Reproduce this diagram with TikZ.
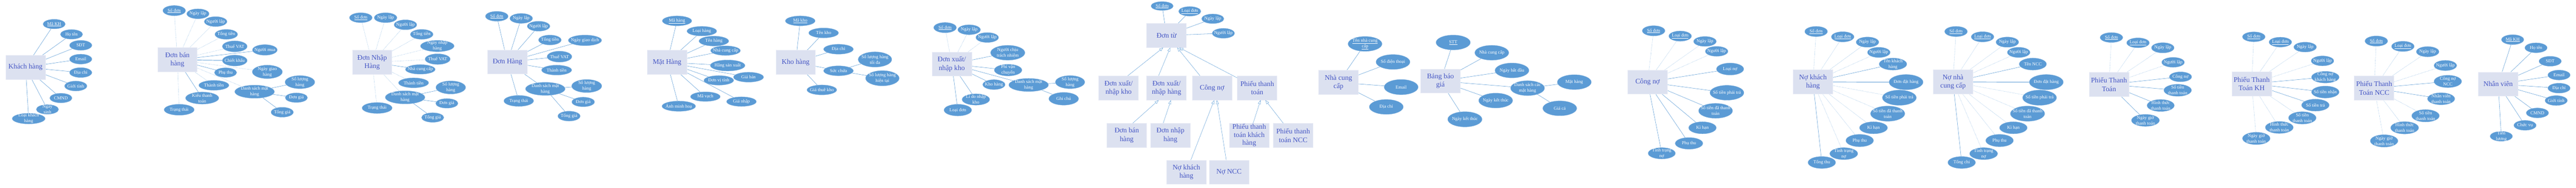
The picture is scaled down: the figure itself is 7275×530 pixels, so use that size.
\documentclass[tikz,border=0pt]{standalone}
\usepackage{fontspec}
\setmainfont{Liberation Serif}
\usetikzlibrary{shapes.geometric,arrows.meta}
\definecolor{attrfill}{HTML}{5B9BD5}
\definecolor{attrdraw}{HTML}{7FB0DE}
\definecolor{entfill}{HTML}{DCE1F0}
\definecolor{entdraw}{HTML}{E8EBF5}
\definecolor{enttext}{HTML}{4455C4}
\definecolor{lnc}{HTML}{5B9BD5}
\definecolor{dlc}{HTML}{9DC3E6}
\pgfdeclarelayer{bg}
\pgfsetlayers{bg,main}
\tikzset{
  attr/.style={ellipse,fill=attrfill,draw=attrdraw,line width=0.6pt,inner sep=0pt},
  atxt/.style={text=white,align=center,inner sep=0pt,font=\fontsize{13}{16}\selectfont},
  ent/.style={rectangle,fill=entfill,draw=entdraw,line width=1pt,minimum width=112pt,minimum height=68pt,inner sep=0pt,align=center,text=enttext,font=\fontsize{20}{24}\selectfont},
  ln/.style={draw=lnc,line width=0.8pt},
  thk/.style={draw=lnc,line width=1.4pt},
  dl/.style={draw=dlc,line width=0.8pt,densely dotted},
  gen/.style={draw=lnc,line width=0.7pt,-{Triangle[open,length=11pt,width=8pt]}}
}
\newcommand{\myattr}[6]{%
  \node[attr,minimum width=#4pt,minimum height=#5pt] (#1) at (#2,#3) {};
  \node[atxt] (#1t) at (#1.center) {#6};}
\newcommand{\myent}[4]{\node[ent] (#1) at (#2,#3) {#4};}
\newcommand{\links}[3]{\begin{pgfonlayer}{bg}\foreach \tgt in {#3}{\draw[#1] (#2) -- (\tgt);}\end{pgfonlayer}}
\begin{document}
\begin{tikzpicture}[x=1pt,y=-1pt]
\useasboundingbox (0,0) rectangle (7275,530);
% ---------------- Khach hang
\myent{KH}{72}{190}{Khách hàng}
\myattr{k1}{153}{68}{63}{27}{\underline{Mã KH}}
\myattr{k2}{202}{97}{63}{27}{Họ tên}
\myattr{k3}{228}{128}{63}{28}{SĐT}
\myattr{k4}{228}{167}{63}{28}{Email}
\myattr{k5}{228}{205}{63}{28}{Địa chỉ}
\myattr{k6}{214}{243}{63}{28}{Giới tính}
\myattr{k7}{172}{277}{63}{27}{CMND}
\myattr{k8}{134}{309}{63}{27}{Ngày\\sinh}
\myattr{k9}{81}{335}{93}{30}{Loại khách\\hàng}
\links{ln}{KH}{k1,k2,k3,k4,k5,k6,k7,k8,k9}
% ---------------- Don ban hang
\myent{DBH}{501}{169}{Đơn bán\\hàng}
\myattr{b1}{492}{30}{64}{29}{\underline{Số đơn}}
\myattr{b2}{559}{39}{63}{28}{Ngày lập}
\myattr{b3}{609}{61}{64}{28}{Người lập}
\myattr{b4}{639}{97}{64}{28}{Tổng tiền}
\myattr{b5}{663}{131}{70}{31}{Thuế VAT}
\myattr{b6}{748}{141}{70}{30}{Người mua}
\myattr{b7}{663}{171}{70}{31}{Chiết khấu}
\myattr{b8}{755}{203}{85}{38}{Ngày giao\\hàng}
\myattr{b9}{637}{205}{63}{27}{Phụ thu}
\myattr{b10}{604}{241}{85}{28}{Thành tiền}
\myattr{b11}{571}{277}{94}{34}{Kiểu thanh\\toán}
\myattr{b12}{506}{310}{85}{31}{Trạng thái}
\myattr{b13}{719}{259}{112}{37}{Danh sách mặt\\hàng}
\myattr{b14}{847}{232}{84}{37}{Số lượng\\hàng}
\myattr{b15}{837}{276}{63}{27}{Đơn giá}
\myattr{b16}{797}{317}{63}{28}{Tổng giá}
\links{dl}{DBH}{b1,b2,b3,b4,b5,b8,b10,b12,b13}
\links{ln}{DBH}{b6,b9,b11}
\links{thk}{DBH}{b7}
\links{ln}{b13}{b14,b15,b16}
% ---------------- Don nhap hang
\myent{DNH}{1051}{176}{Đơn Nhập\\Hàng}
\myattr{n1}{1019}{50}{64}{28}{\underline{Số đơn}}
\myattr{n2}{1089}{50}{64}{28}{Ngày lập}
\myattr{n3}{1145}{70}{64}{28}{Người lập}
\myattr{n4}{1191}{97}{64}{28}{Tổng tiền}
\myattr{n5}{1235}{130}{95}{32}{Ngày nhập\\hàng}
\myattr{n6}{1236}{167}{71}{30}{Thuế VAT}
\myattr{n7}{1187}{196}{84}{27}{Nhà cung cấp}
\myattr{n8}{1168}{234}{85}{28}{Thành tiền}
\myattr{n9}{1144}{275}{112}{37}{Danh sách mặt\\hàng}
\myattr{n10}{1273}{247}{84}{37}{Số lượng\\hàng}
\myattr{n11}{1262}{292}{63}{27}{Đơn giá}
\myattr{n12}{1222}{332}{63}{27}{Tổng giá}
\myattr{n13}{1065}{305}{85}{31}{Trạng thái}
\links{dl}{DNH}{n1,n2,n3,n4,n5,n6,n8,n9,n13}
\links{ln}{DNH}{n7}
\links{ln}{n9}{n10,n11,n12}
% ---------------- Don hang
\myent{DH}{1433}{175}{Đơn Hàng}
\myattr{h1}{1403}{46}{64}{28}{\underline{Số đơn}}
\myattr{h2}{1472}{52}{64}{28}{Ngày lập}
\myattr{h3}{1521}{74}{64}{28}{Người lập}
\myattr{h4}{1553}{113}{64}{28}{Tổng tiền}
\myattr{h5}{1652}{114}{94}{30}{Ngày giao dịch}
\myattr{h6}{1580}{160}{70}{31}{Thuế VAT}
\myattr{h7}{1572}{198}{85}{28}{Thành tiền}
\myattr{h8}{1540}{251}{112}{37}{Danh sách mặt\\hàng}
\myattr{h9}{1657}{243}{85}{37}{Số lượng\\hàng}
\myattr{h10}{1647}{288}{64}{27}{Đơn giá}
\myattr{h11}{1607}{328}{63}{28}{Tổng giá}
\myattr{h12}{1465}{285}{84}{31}{Trạng thái}
\links{ln}{DH}{h1,h2,h3,h4,h5,h6,h7,h8,h12}
\links{ln}{h8}{h9,h10,h11}
% ---------------- Mat hang
\myent{MH}{1884}{176}{Mặt Hàng}
\myattr{m1}{1912}{59}{83}{28}{\underline{Mã hàng}}
\myattr{m2}{1982}{88}{84}{27}{Loại hàng}
\myattr{m3}{2016}{116}{84}{28}{Tên hàng}
\myattr{m4}{2049}{143}{84}{27}{Nhà cung cấp}
\myattr{m5}{2055}{185}{98}{31}{Hãng sản xuất}
\myattr{m6}{2114}{218}{85}{28}{Giá bán}
\myattr{m7}{2030}{227}{84}{27}{Đơn vị tính}
\myattr{m8}{1992}{273}{84}{27}{Mã vạch}
\myattr{m9}{2094}{287}{84}{27}{Giá nhập}
\myattr{m10}{1917}{300}{95}{29}{Ảnh minh hoạ}
\links{ln}{MH}{m1,m2,m3,m4,m5,m6,m7,m8,m9,m10}
% ---------------- Kho hang
\myent{KHO}{2247}{176}{Kho hàng}
\myattr{o1}{2260}{59}{84}{28}{\underline{Mã kho}}
\myattr{o2}{2326}{93}{84}{28}{Tên kho}
\myattr{o3}{2368}{139}{84}{28}{Địa chỉ}
\myattr{o4}{2368}{200}{84}{28}{Sức chứa}
\myattr{o5}{2321}{254}{84}{28}{Giá thuê kho}
\myattr{o6}{2471}{168}{95}{43}{Số lượng hàng\\tối đa}
\myattr{o7}{2492}{221}{95}{43}{Số lượng hàng\\hiện tại}
\links{ln}{KHO}{o1,o2,o3,o4,o5}
\links{ln}{o4}{o6,o7}
% ---------------- Don xuat/nhap kho
\myent{DXK}{2688}{181}{Đơn xuất/\\nhập kho}
\myattr{x1}{2669}{78}{64}{29}{\underline{Số đơn}}
\myattr{x2}{2737}{84}{64}{28}{Ngày lập}
\myattr{x3}{2788}{106}{64}{28}{Người lập}
\myattr{x4}{2846}{149}{97}{42}{Người chịu\\trách nhiệm}
\myattr{x5}{2847}{198}{78}{33}{Phí vận\\chuyển}
\myattr{x6}{2807}{239}{63}{28}{Kho hàng}
\myattr{x7}{2905}{240}{112}{37}{Danh sách mặt\\hàng}
\myattr{x8}{3022}{232}{83}{37}{Số lượng\\hàng}
\myattr{x9}{3004}{279}{84}{36}{Ghi chú}
\myattr{x10}{2756}{281}{78}{32}{Lí do nhập\\kho}
\myattr{x11}{2705}{311}{78}{33}{Loại đơn}
\links{dl}{DXK}{x1,x2,x3}
\links{ln}{DXK}{x4,x5,x6,x7,x10,x11}
\links{ln}{x7}{x8,x9}
% ---------------- Don tu hierarchy
\myent{DT}{3294.5}{100}{Đơn từ}
\myattr{t1}{3282}{17}{63}{25}{\underline{Số đơn}}
\myattr{t2}{3360}{32}{63}{27}{\underline{Loại đơn}}
\myattr{t3}{3425}{53}{63}{27}{Ngày lập}
\myattr{t4}{3455}{94}{63}{28}{Người lập}
\links{ln}{DT}{t1,t2,t3,t4}
\myent{tA}{3159}{248.5}{Đơn xuất/\\nhập kho}
\myent{tB}{3294.5}{248.5}{Đơn xuất/\\nhập hàng}
\myent{tC}{3423}{248.5}{Công nợ}
\myent{tD}{3550.5}{248.5}{Phiếu thanh\\toán}
\myent{tE}{3182}{382.5}{Đơn bán\\hàng}
\myent{tF}{3305.5}{382.5}{Đơn nhập\\hàng}
\node[ent,font=\fontsize{20}{22.5}\selectfont] (tG) at (3528,382.5) {Phiếu thanh\\toán khách\\hàng};
\myent{tH}{3652}{382.5}{Phiếu thanh\\toán NCC}
\myent{tI}{3350.5}{486.5}{Nợ khách\\hàng}
\myent{tJ}{3471}{486.5}{Nợ NCC}
\draw[gen] ([xshift=26pt]tA.north) -- ([xshift=-9.5pt]DT.south);
\draw[gen] ([xshift=-22.5pt]tB.north) -- ([xshift=10.5pt]DT.south);
\draw[gen] ([xshift=-34pt]tC.north) -- ([xshift=30pt]DT.south);
\draw[gen] ([yshift=-6pt]tD.north west) -- ([xshift=36pt]DT.south);
\draw[gen] ([xshift=17pt]tE.north) -- ([xshift=-22.5pt]tB.south);
\draw[gen] ([xshift=-20.5pt]tF.north) -- ([xshift=12.5pt]tB.south);
\draw[gen] ([xshift=12.5pt]tI.north) -- ([xshift=6pt]tC.south);
\draw[gen] ([xshift=-8pt]tJ.north) -- ([xshift=13.5pt]tC.south);
\draw[gen] ([xshift=11pt]tG.north) -- ([xshift=9.5pt]tD.south);
\draw[gen] ([xshift=-28pt]tH.north) -- ([xshift=23pt]tD.south);
% ---------------- Nha cung cap
\myent{NCC}{3780}{233}{Nhà cung\\cấp}
\myattr{c1}{3855}{124}{96}{42}{\underline{Tên nhà cung}\\\underline{cấp}}
\myattr{c2}{3934}{175}{96}{42}{Số điện thoại}
\myattr{c3}{3957}{246}{96}{43}{Email}
\myattr{c4}{3915}{302}{96}{42}{Địa chỉ}
\links{ln}{NCC}{c1,c2,c3,c4}
% ---------------- Bang bao gia
\myent{BBG}{4068}{229}{Bảng báo\\giá}
\myattr{g1}{4104}{120}{97}{42}{\underline{STT}}
\myattr{g2}{4213}{149}{96}{42}{Nhà cung cấp}
\myattr{g3}{4270}{199}{96}{42}{Ngày bắt đầu}
\myattr{g4}{4314}{249}{96}{42}{Danh sách các\\mặt hàng}
\myattr{g5}{4224}{284}{96}{42}{Ngày kết thúc}
\myattr{g6}{4137}{337}{97}{43}{Ngày kết thúc}
\myattr{g7}{4446}{232}{96}{42}{Mặt hàng}
\myattr{g8}{4405}{306}{96}{42}{Giá cả}
\links{ln}{BBG}{g1,g2,g3,g4,g5,g6}
\links{ln}{g4}{g7,g8}
% ---------------- Cong no
\myent{CN}{4653}{232}{Công nợ}
\myattr{q1}{4670}{87}{64}{29}{\underline{Số đơn}}
\myattr{q2}{4745}{102}{64}{29}{\underline{Loại đơn}}
\myattr{q3}{4815}{117}{64}{28}{Ngày lập}
\myattr{q4}{4848}{145}{64}{28}{Người lập}
\myattr{q5}{4886}{195}{77}{34}{Loại nợ}
\myattr{q6}{4877}{262}{96}{42}{Số tiền phải trả}
\myattr{q7}{4845}{313}{96}{42}{Số tiền đã thanh\\toán}
\myattr{q8}{4808}{361}{78}{34}{Kì hạn}
\myattr{q9}{4770}{405}{78}{33}{Phụ thu}
\myattr{q10}{4693}{433}{77}{32}{Tình trạng\\nợ}
\links{dl}{CN}{q1,q2,q3,q4}
\links{ln}{CN}{q5,q6,q7,q8,q9,q10}
% ---------------- No khach hang
\myent{NKH}{5120}{231.5}{Nợ khách\\hàng}
\myattr{r1}{5129}{89}{64}{29}{\underline{Số đơn}}
\myattr{r2}{5204}{104}{64}{29}{\underline{Loại đơn}}
\myattr{r3}{5274}{119}{64}{29}{Ngày lập}
\myattr{r4}{5306}{148}{64}{29}{Người lập}
\myattr{r5}{5346}{181}{78}{34}{Tên khách\\hàng}
\myattr{r6}{5383}{232}{96}{43}{Đơn đặt hàng}
\myattr{r7}{5364}{276}{96}{43}{Số tiền phải trả}
\myattr{r8}{5331}{321}{97}{43}{Số tiền đã thanh\\toán}
\myattr{r9}{5291}{361}{79}{34}{Kì hạn}
\myattr{r10}{5252}{397}{78}{35}{Phụ thu}
\myattr{r11}{5207}{434}{79}{34}{Tình trạng\\nợ}
\myattr{r12}{5145}{459}{78}{34}{Tổng thu}
\links{dl}{NKH}{r1,r2,r3,r4,r7,r8,r9,r10,r11}
\links{ln}{NKH}{r5,r12}
\links{thk}{NKH}{r6}
% ---------------- No nha cung cap
\myent{NNCC}{5515.5}{231.5}{Nợ nhà\\cung cấp}
\myattr{s1}{5524}{89}{64}{29}{\underline{Số đơn}}
\myattr{s2}{5599}{104}{64}{29}{\underline{Loại đơn}}
\myattr{s3}{5669}{119}{64}{29}{Ngày lập}
\myattr{s4}{5701}{148}{64}{29}{Người lập}
\myattr{s5}{5741}{181}{77}{34}{Tên NCC}
\myattr{s6}{5779}{232}{96}{43}{Đơn đặt hàng}
\myattr{s7}{5760}{276}{96}{43}{Số tiền phải trả}
\myattr{s8}{5726}{321}{97}{43}{Số tiền đã thanh\\toán}
\myattr{s9}{5686}{361}{78}{34}{Kì hạn}
\myattr{s10}{5647}{397}{78}{35}{Phụ thu}
\myattr{s11}{5602}{434}{79}{34}{Tình trạng\\nợ}
\myattr{s12}{5540}{459}{78}{34}{Tổng chi}
\links{dl}{NNCC}{s1,s2,s3,s4,s7,s8,s9,s10,s11}
\links{ln}{NNCC}{s5,s12}
\links{thk}{NNCC}{s6}
% ---------------- Phieu thanh toan
\myent{PTT}{5956}{238.5}{Phiếu Thanh\\Toán}
\myattr{p1}{5963}{106}{64}{28}{\underline{Số đơn}}
\myattr{p2}{6038}{121}{64}{28}{\underline{Loại đơn}}
\myattr{p3}{6108}{135}{64}{29}{Ngày lập}
\myattr{p4}{6137}{176}{64}{28}{Người lập}
\myattr{p5}{6158}{217}{63}{28}{Công nợ}
\myattr{p6}{6150}{255}{78}{34}{Số tiền\\thanh toán}
\myattr{p7}{6102}{298}{77}{34}{Hình thức\\thanh toán}
\myattr{p8}{6059}{340}{79}{34}{Ngày giờ\\thanh toán}
\links{dl}{PTT}{p1,p2,p3,p4}
\links{ln}{PTT}{p5,p6,p7,p8}
% ---------------- Phieu thanh toan KH
\myent{PKH}{6359}{236.5}{Phiếu Thanh\\Toán KH}
\myattr{u1}{6365}{104}{64}{28}{\underline{Số đơn}}
\myattr{u2}{6440}{119}{64}{28}{\underline{Loại đơn}}
\myattr{u3}{6510}{133}{64}{28}{Ngày lập}
\myattr{u4}{6559}{172}{64}{28}{Người lập}
\myattr{u5}{6567}{218}{78}{33}{Công nợ\\khách hàng}
\myattr{u6}{6567}{260}{78}{34}{Số tiền nhận}
\myattr{u7}{6539}{297}{78}{34}{Số tiền trả}
\myattr{u8}{6502}{333}{78}{35}{Số tiền\\thanh toán}
\myattr{u9}{6437}{360}{79}{34}{Hình thức\\thanh toán}
\myattr{u10}{6372}{391}{78}{35}{Ngày giờ\\thanh toán}
\links{dl}{PKH}{u1,u2,u3,u4,u8,u9,u10}
\links{ln}{PKH}{u5,u6,u7}
% ---------------- Phieu thanh toan NCC
\myent{PNCC}{6705}{249}{Phiếu Thanh\\Toán NCC}
\myattr{v1}{6711}{116}{64}{29}{\underline{Số đơn}}
\myattr{v2}{6786}{131}{64}{29}{\underline{Loại đơn}}
\myattr{v3}{6856}{146}{64}{29}{Ngày lập}
\myattr{v4}{6906}{185}{64}{29}{Người lập}
\myattr{v5}{6913}{230}{78}{35}{Công nợ\\NCC}
\myattr{v6}{6894}{279}{77}{34}{Nhân viên\\thanh toán}
\myattr{v7}{6850}{327}{78}{35}{Số tiền\\thanh toán}
\myattr{v8}{6791}{361}{79}{35}{Hình thức\\thanh toán}
\myattr{v9}{6733}{398}{78}{35}{Ngày giờ\\thanh toán}
\links{dl}{PNCC}{v1,v2,v3,v4,v7,v8,v9}
\links{ln}{PNCC}{v5,v6}
% ---------------- Nhan vien
\myent{NV}{7055}{237.5}{Nhân viên}
\myattr{w1}{7096}{112}{63}{28}{\underline{Mã KH}}
\myattr{w2}{7162}{135}{63}{28}{Họ tên}
\myattr{w3}{7202}{173}{63}{28}{SĐT}
\myattr{w4}{7227}{212}{63}{28}{Email}
\myattr{w5}{7227}{249}{63}{28}{Địa chỉ}
\myattr{w6}{7219}{284}{63}{28}{Giới tính}
\myattr{w7}{7166}{319}{63}{28}{CMND}
\myattr{w8}{7131}{354}{63}{28}{Chức vụ}
\myattr{w9}{7064}{385}{63}{28}{Tiền\\lương}
\links{ln}{NV}{w1,w2,w3,w4,w5,w6,w7,w8,w9}
\end{tikzpicture}
\end{document}
